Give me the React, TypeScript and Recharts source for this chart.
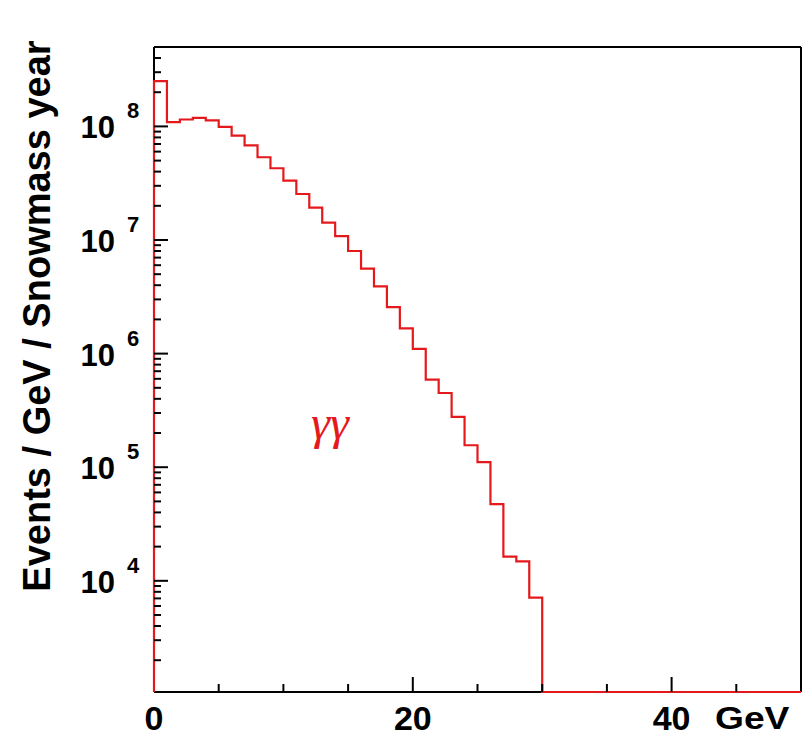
import { Line, LineChart, ReferenceLine, XAxis, YAxis } from "recharts";

// events / GeV / Snowmass year, 1 GeV bins from 0 to 30 GeV (empty above)
const binValues = [
  2.5e8, 1.09e8, 1.15e8, 1.19e8, 1.13e8, 9.9e7, 8.3e7, 6.8e7, 5.35e7, 4.28e7,
  3.33e7, 2.54e7, 1.93e7, 1.42e7, 1.08e7, 8.0e6, 5.6e6, 3.9e6, 2.57e6, 1.67e6,
  1.1e6, 5.9e5, 4.5e5, 2.77e5, 1.56e5, 1.11e5, 4.73e4, 1.63e4, 1.48e4, 7.1e3,
];
const X_MAX = 50;
const Y_MIN = 1050;
const Y_MAX = 5e8;

const xTicks = [0, 5, 10, 15, 20, 25, 30, 35, 40, 45, 50];
const xLabels = [0, 20, 40];
const yMajor = [1e4, 1e5, 1e6, 1e7, 1e8];
const yTicks = [3, 4, 5, 6, 7, 8]
  .flatMap((p) => [1, 2, 3, 4, 5, 6, 7, 8, 9].map((m) => m * Math.pow(10, p)))
  .filter((v) => v >= Y_MIN && v <= Y_MAX);

const points = [
  { x: 0, y: Y_MIN },
  ...Array.from({ length: X_MAX }, (_, i) => ({ x: i, y: binValues[i] ?? Y_MIN })),
  { x: X_MAX, y: Y_MIN },
];

const W = 806;
const H = 741;
const LEFT = 154;
const TOP = 47;
const BOTTOM = 692;
const RED = "#e5191c";
const SANS = "'Liberation Sans', Arial, Helvetica, sans-serif";

function YTick(props: any) {
  const { y, payload } = props;
  const v = payload.value;
  const major = yMajor.some((m) => Math.abs(m - v) / m < 1e-6);
  const exp = Math.round(Math.log10(v));
  return (
    <g>
      <line x1={LEFT} x2={LEFT + (major ? 14 : 7)} y1={y} y2={y} stroke="#000" strokeWidth={2} />
      {major && (
        <text x={115} y={y + 12} textAnchor="end" fontFamily={SANS} fontWeight="bold" fontSize={31} fill="#000">
          10
        </text>
      )}
      {major && (
        <text x={127} y={y - 8} fontFamily={SANS} fontWeight="bold" fontSize={22} fill="#000">
          {exp}
        </text>
      )}
    </g>
  );
}

function XTick(props: any) {
  const { x, payload } = props;
  const v = payload.value;
  const labeled = xLabels.includes(v);
  return (
    <g>
      {v > 0 && v < X_MAX && (
        <line x1={x} x2={x} y1={BOTTOM} y2={BOTTOM - (labeled ? 15 : 8)} stroke="#000" strokeWidth={2} />
      )}
      {labeled && (
        <text x={x} y={BOTTOM + 38} textAnchor="middle" fontFamily={SANS} fontWeight="bold" fontSize={34} fill="#000">
          {v}
        </text>
      )}
    </g>
  );
}

export default function App() {
  return (
    <div style={{ position: "absolute", left: 0, top: 0, width: W, height: H, background: "#fff" }}>
      <LineChart width={W} height={H} data={points} margin={{ top: TOP, right: 5, bottom: 0, left: 94 }}>
        <XAxis
          dataKey="x"
          type="number"
          domain={[0, X_MAX]}
          ticks={xTicks}
          interval={0}
          height={H - BOTTOM}
          tickLine={false}
          axisLine={false}
          tick={<XTick />}
        />
        <YAxis
          type="number"
          scale="log"
          domain={[Y_MIN, Y_MAX]}
          ticks={yTicks}
          interval={0}
          width={60}
          tickLine={false}
          axisLine={false}
          tick={<YTick />}
        />
        <ReferenceLine y={Y_MIN} stroke="#000" strokeWidth={2} />
        <ReferenceLine x={0} stroke="#000" strokeWidth={2} />
        <ReferenceLine y={Y_MAX} stroke="#000" strokeWidth={2} />
        <ReferenceLine x={X_MAX} stroke="#000" strokeWidth={2} />
        <Line
          dataKey="y"
          type="stepAfter"
          stroke={RED}
          strokeWidth={2.2}
          dot={false}
          isAnimationActive={false}
          {...({ zIndex: 1500 } as any)}
        />
      </LineChart>
      <div
        style={{
          position: "absolute",
          left: 37,
          top: 316,
          transform: "translate(-50%, -50%) rotate(-90deg)",
          whiteSpace: "nowrap",
          fontFamily: SANS,
          fontWeight: "bold",
          fontSize: 38,
          color: "#000",
        }}
      >
        Events / GeV / Snowmass year
      </div>
      <div
        style={{
          position: "absolute",
          left: 715,
          top: 701,
          whiteSpace: "nowrap",
          fontFamily: SANS,
          fontWeight: "bold",
          fontSize: 31,
          lineHeight: "36px",
          transform: "scaleX(1.2)",
          transformOrigin: "left top",
          color: "#000",
        }}
      >
        GeV
      </div>
      <div
        style={{
          position: "absolute",
          left: 311,
          top: 395,
          fontFamily: "'Liberation Serif', 'DejaVu Serif', serif",
          fontStyle: "italic",
          fontSize: 48,
          color: RED,
        }}
      >
        γγ
      </div>
    </div>
  );
}
